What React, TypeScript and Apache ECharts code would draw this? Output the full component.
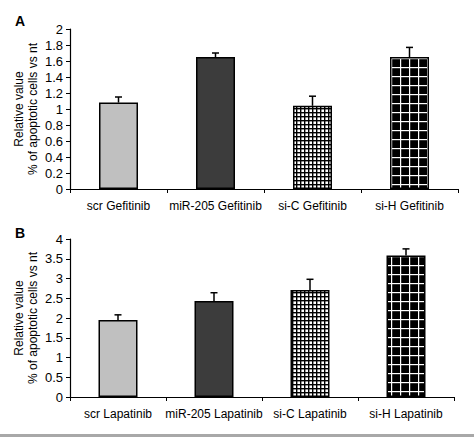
import React, { useEffect, useRef } from "react";
import * as echarts from "echarts";

const catsA = ["scr Gefitinib", "miR-205 Gefitinib", "si-C Gefitinib", "si-H Gefitinib"];
const valsA = [1.08, 1.65, 1.04, 1.65];
const errA = [0.07, 0.05, 0.12, 0.12];
const maxA = 2;
const stepA = 0.2;

const catsB = ["scr Lapatinib", "miR-205 Lapatinib", "si-C Lapatinib", "si-H Lapatinib"];
const valsB = [1.95, 2.43, 2.71, 3.58];
const errB = [0.13, 0.21, 0.27, 0.17];
const maxB = 4;
const stepB = 0.5;

const yTitle = "Relative value\n% of apoptotic cells vs nt";

function finePattern(): HTMLCanvasElement {
  const c = document.createElement("canvas");
  c.width = 4;
  c.height = 4;
  const g = c.getContext("2d")!;
  g.fillStyle = "#ffffff";
  g.fillRect(0, 0, 4, 4);
  g.fillStyle = "#000000";
  g.fillRect(0, 0, 4, 1.4);
  g.fillRect(0, 0, 1.4, 4);
  return c;
}

function coarsePattern(): HTMLCanvasElement {
  const c = document.createElement("canvas");
  c.width = 9;
  c.height = 9;
  const g = c.getContext("2d")!;
  g.fillStyle = "#000000";
  g.fillRect(0, 0, 9, 9);
  g.fillStyle = "#ffffff";
  g.fillRect(0, 4, 9, 1.2);
  g.fillRect(4, 0, 1.2, 9);
  return c;
}

export default function App() {
  const ref = useRef<HTMLDivElement>(null);

  useEffect(() => {
    document.body.style.margin = "0";
    if (!ref.current) return;
    const chart = echarts.init(ref.current, null, { renderer: "svg" });
    const fine = { image: finePattern(), repeat: "repeat" };
    const coarse = { image: coarsePattern(), repeat: "repeat" };
    const fills: any[] = ["#c0c0c0", "#3c3c3c", fine, coarse];

    const font = "Liberation Sans, Arial, sans-serif";

    const barData = (vals: number[]) =>
      vals.map((v, i) => ({
        value: v,
        itemStyle: { color: fills[i], borderColor: "#000", borderWidth: 1.5 },
      }));

    const errData = (vals: number[], errs: number[]) => vals.map((v, i) => [i, v, errs[i]]);

    const renderErr = (params: any, api: any) => {
      const i = api.value(0);
      const v = api.value(1);
      const e = api.value(2);
      const p0 = api.coord([i, v]);
      const p1 = api.coord([i, v + e]);
      const cap = 3.5;
      const style = { stroke: "#000", lineWidth: 1.5 };
      return {
        type: "group",
        children: [
          { type: "line", shape: { x1: p0[0], y1: p0[1], x2: p1[0], y2: p1[1] }, style },
          { type: "line", shape: { x1: p1[0] - cap, y1: p1[1], x2: p1[0] + cap, y2: p1[1] }, style },
        ],
      };
    };

    const xAxisBase = (cats: string[], gridIndex: number) => ({
      type: "category",
      gridIndex,
      data: cats,
      axisLine: { lineStyle: { color: "#000", width: 1.2 } },
      axisTick: { show: true, length: 4, lineStyle: { color: "#000" } },
      axisLabel: {
        color: "#000",
        fontSize: 12,
        fontFamily: font,
        margin: 11,
        interval: 0,
        hideOverlap: false,
      },
    });

    const yAxisBase = (max: number, step: number, gridIndex: number) => ({
      type: "value",
      gridIndex,
      min: 0,
      max,
      interval: step,
      name: yTitle,
      nameLocation: "middle",
      nameGap: 30,
      nameMoveOverlap: false,
      nameTextStyle: { color: "#000", fontSize: 12, fontFamily: font, lineHeight: 14 },
      axisLine: { show: true, lineStyle: { color: "#000", width: 1.2 } },
      axisTick: { show: true, length: 4, lineStyle: { color: "#000" } },
      axisLabel: { color: "#000", fontSize: 13, fontFamily: font, margin: 7 },
      splitLine: { show: false },
    });

    chart.setOption({
      animation: false,
      backgroundColor: "#ffffff",
      grid: [
        { left: 70, top: 29, width: 388, height: 160 },
        { left: 70, top: 239, width: 384, height: 158 },
      ],
      xAxis: [xAxisBase(catsA, 0), xAxisBase(catsB, 1)],
      yAxis: [yAxisBase(maxA, stepA, 0), yAxisBase(maxB, stepB, 1)],
      graphic: [
        { type: "text", left: 15, top: 14, style: { text: "A", font: `bold 14px ${font}`, fill: "#000" } },
        { type: "text", left: 15, top: 226, style: { text: "B", font: `bold 14px ${font}`, fill: "#000" } },
        { type: "rect", left: 0, top: 434, shape: { width: 474, height: 3 }, style: { fill: "#a8a8a8" } },
      ],
      series: [
        { type: "bar", xAxisIndex: 0, yAxisIndex: 0, barWidth: 39, data: barData(valsA), z: 2 },
        { type: "bar", xAxisIndex: 1, yAxisIndex: 1, barWidth: 39, data: barData(valsB), z: 2 },
        {
          type: "custom",
          xAxisIndex: 0,
          yAxisIndex: 0,
          data: errData(valsA, errA),
          encode: { x: 0, y: 1 },
          renderItem: renderErr,
          z: 3,
        },
        {
          type: "custom",
          xAxisIndex: 1,
          yAxisIndex: 1,
          data: errData(valsB, errB),
          encode: { x: 0, y: 1 },
          renderItem: renderErr,
          z: 3,
        },
      ],
    });
    return () => chart.dispose();
  }, []);

  return <div ref={ref} style={{ width: 474, height: 437, overflow: "hidden" }} />;
}
